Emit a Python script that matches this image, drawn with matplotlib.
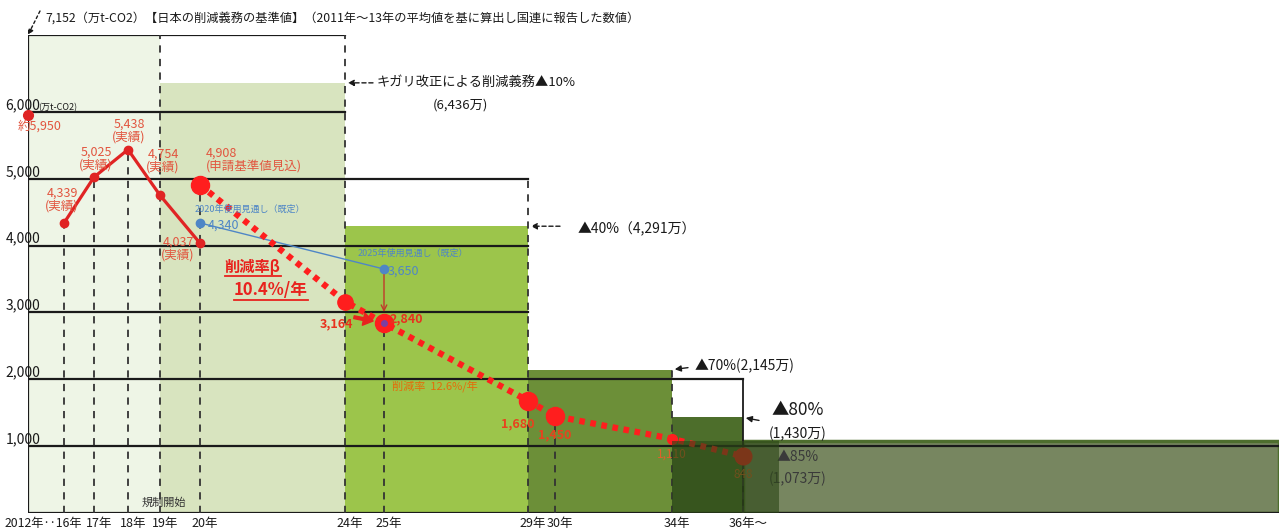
import numpy as np
import matplotlib
matplotlib.use('Agg')
import matplotlib.pyplot as plt
from matplotlib.lines import Line2D
from matplotlib.transforms import IdentityTransform, blended_transform_factory

plt.rcParams['font.family'] = ['Noto Sans CJK JP', 'DejaVu Sans']

# ---- data (万t-CO2) ----
baseline = 7152
base_2012 = 5950

actual_years = [2016, 2017, 2018, 2019, 2020]
actual_values = [4339, 5025, 5438, 4754, 4037]

plan_years = [2020, 2024, 2025, 2029, 2030, 2034, 2036]
plan_values = [4908, 3164, 2840, 1680, 1450, 1110, 848]

use_years = [2020, 2025]
use_values = [4340, 3650]
use_labels = ['2020年使用見通し（既定）', '2025年使用見通し（既定）']

cap_start = [2019, 2024, 2029, 2034, 2036]
cap_end = [2024, 2029, 2034, 2036, 2051]
cap_values = [6436, 4291, 2145, 1430, 1073]

tick_years = [2017, 2018, 2019, 2020, 2024, 2025, 2029, 2030, 2034, 2036]
tick_labels = ['17年', '18年', '19年', '20年', '24年', '25年', '29年', '30年', '34年', '36年～']
y_levels = [1000, 2000, 3000, 4000, 5000, 6000]

# schematic (uneven) year axis of the slide
knot_year = [2012, 2016, 2017, 2018, 2019, 2020, 2024, 2025, 2029, 2030, 2034, 2036, 2051]
knot_pos = [28, 64, 94, 128, 160, 200, 345, 384, 528, 555, 672, 743, 1279]


def fwd(x):
    return np.interp(x, knot_year, knot_pos)


def inv(x):
    return np.interp(x, knot_pos, knot_year)


RED = '#ff1e1e'
LBL = '#e2553f'
BLUE = '#4f86c6'

fig = plt.figure(figsize=(12.79, 5.30), dpi=100)
ax = fig.add_axes([28 / 1279, 17 / 530, 1251 / 1279, 478 / 530])
ax.set_xscale('function', functions=(fwd, inv))
ax.set_xlim(2012, 2051)
ax.set_ylim(0, baseline)
ax.axis('off')

# ---- filled areas ----
ax.bar(2012, baseline, width=2019 - 2012, align='edge', color='#eef5e6', zorder=1)
cap_colors = ['#d8e4bf', '#9cc54b', '#6c8f38', '#4d6e2b', '#778660']
for s, e, v, c in zip(cap_start, cap_end, cap_values, cap_colors):
    ax.bar(s, v, width=e - s, align='edge', color=c, zorder=1)
ax.bar(2036, cap_values[4], width=2051 - 2036, align='edge', fill=False,
       edgecolor='#4e6e2e', lw=2.5, zorder=2)

# ---- frame / level lines ----
line_ends = [2051, 2036, 2029, 2029, 2029, 2024]
for lv, xe in zip(y_levels, line_ends):
    ax.plot([2012, xe], [lv, lv], color='#1a1a1a', lw=1.6, zorder=2)
ax.plot([2012, 2024], [baseline, baseline], color='#1a1a1a', lw=1.6, zorder=2)
ax.plot([2012, 2012], [0, baseline], color='#1a1a1a', lw=1.6, zorder=2)
ax.plot([2012, 2051], [0, 0], color='#1a1a1a', lw=1.6, zorder=2)
ax.plot([2036, 2036], [0, 2000], color='#1a1a1a', lw=1.3, zorder=2)

dash = dict(color='#333333', lw=1.3, ls=(0, (4, 3.5)), zorder=2.5)
ax.plot([2024, 2024], [0, baseline], **dash)
ax.plot([2019, 2019], [0, baseline], **dash)
ax.plot([2029, 2029], [0, 5000], **dash)
ax.plot([2034, 2034], [0, cap_values[2]], **dash)
for yr, v in zip(actual_years[:3], actual_values[:3]):
    ax.plot([yr, yr], [0, v], **dash)
for yr, v in zip(plan_years, plan_values):
    if yr in (2020, 2025, 2030, 2036):
        ax.plot([yr, yr], [0, v], **dash)

# ---- series ----
ax.plot(actual_years, actual_values, color='#e02424', lw=2.3, marker='o', ms=6, zorder=4)
ax.plot([2012], [base_2012], 'o', color='#e02424', ms=7, zorder=4, clip_on=False)

ax.plot(use_years, use_values, color=BLUE, lw=1, marker='o', ms=6, zorder=4)
ax.plot(plan_years, plan_values, color=RED, lw=4.5, ls=(0, (0.9, 0.9)),
        dash_capstyle='butt', zorder=4.5)
plan_ms = [13, 11, 13, 13, 13, 7, 12]
for yr, v, m in zip(plan_years, plan_values, plan_ms):
    ax.plot(yr, v, 'o', color=RED, ms=m, zorder=4.6)
ax.plot(2025, 2840, 'o', color='#7b3fa0', ms=4, zorder=4.7)

ax.annotate('', xy=(2025, 2840), xytext=(2025, 3650),
            arrowprops=dict(arrowstyle='->', color='#c0392b', lw=1, shrinkA=4, shrinkB=8),
            zorder=4.6)
ax.annotate('', xy=(2025, 2840), xytext=(-30, 6), textcoords='offset pixels',
            arrowprops=dict(arrowstyle='simple,head_width=0.9,head_length=0.7',
                            color='#e8231e', shrinkA=0, shrinkB=8), zorder=4.6)

# ---- point labels ----
def lab(x, y, s, dx, dy, ha='center', va='center', color=LBL, **kw):
    ax.annotate(s, (x, y), xytext=(dx, dy), textcoords='offset pixels',
                ha=ha, va=va, color=color, fontsize=kw.pop('fontsize', 9),
                linespacing=1.0, zorder=kw.pop('zorder', 5), **kw)


lab(2012, base_2012, '約5,950', 12, -4, va='top')
act_off = [(-2, 10), (2, 6), (1, 6), (3, 22)]
for yr, v, (dx, dy) in zip(actual_years[:4], actual_values[:4], act_off):
    lab(yr, v, f'{v:,}\n(実績)', dx, dy, va='bottom')
lab(2020, 4037, '4,037\n(実績)', -6, 8, ha='right', va='top')
lab(2020, 4908, '4,908\n(申請基準値見込)', 6, 12, ha='left', va='bottom')

lab(2020, 4340, '4,340', 8, -2, ha='left', color=BLUE)
lab(2025, 3650, '3,650', 4, -2, ha='left', color=BLUE)
lab(2020, 4340, use_labels[0], -5, 14, ha='left', color=BLUE, fontsize=6.5)
lab(2025, 3650, use_labels[1], -26, 16, ha='left', color=BLUE, fontsize=6.5)

lab(2024, 3164, '3,164', 8, -22, ha='right', color='#e8321e', fontweight='bold')
lab(2025, 2840, '2,840', 6, 4, ha='left', color='#e8321e', fontweight='bold')
lab(2029, 1680, '1,680', 7, -23, ha='right', color='#e8421e', fontweight='bold')
lab(2030, 1450, '1,450', 0, -19, color='#e8421e', fontweight='bold')
lab(2034, 1110, '1,110', 0, -15, color='#e0602a', fontsize=8.5)
lab(2036, 848, '848', 0, -18, color='#e0602a', fontsize=8.5)

# ---- cap annotations ----
arr = dict(arrowstyle='-|>', color='#1a1a1a', lw=1, ls=(0, (3, 2)), mutation_scale=9,
           shrinkA=0, shrinkB=2)
ax.annotate('', xy=(2024, cap_values[0]), xytext=(28, 0), textcoords='offset pixels',
            arrowprops=arr)
lab(2024, cap_values[0], 'キガリ改正による削減義務▲10%', 32, 0, ha='left', color='#1a1a1a',
    fontsize=9.5)
lab(2024, cap_values[0], '(6,436万)', 115, -22, color='#1a1a1a', fontsize=9.5)

ax.annotate('', xy=(2029, cap_values[1]), xytext=(32, 0), textcoords='offset pixels',
            arrowprops=arr)
lab(2029, cap_values[1], '▲40%（4,291万）', 50, -3, ha='left', color='#1a1a1a', fontsize=10)

arr_s = dict(arrowstyle='-|>', color='#1a1a1a', lw=1, mutation_scale=9, shrinkA=0, shrinkB=2)
ax.annotate('', xy=(2034, cap_values[2]), xytext=(16, 2), textcoords='offset pixels',
            arrowprops=arr_s)
lab(2034, cap_values[2], '▲70%(2,145万)', 23, 4, ha='left', color='#1a1a1a', fontsize=10)

ax.annotate('', xy=(2036, cap_values[3]), xytext=(16, -3), textcoords='offset pixels',
            arrowprops=arr_s)
lab(2036, cap_values[3], '▲80%', 55, 7, color='#1a1a1a', fontsize=12.5)
lab(2036, cap_values[3], '(1,430万)', 55, -16, color='#1a1a1a', fontsize=10)

lab(2036, cap_values[4], '▲85%', 55, -16, color='#3a3a3a', fontsize=10)
lab(2036, cap_values[4], '(1,073万)', 55, -38, color='#3a3a3a', fontsize=10)

# dark overlay that hides part of the last labels
ax.bar(2034, cap_values[4], width=2037 - 2034, align='edge', color='#2b4616',
       alpha=0.62, zorder=6)

# ---- free text ----
t1 = ax.text(2021.45, 3680, '削減率β', color='#e8231e', fontsize=11, fontweight='bold',
             ha='center', va='center', zorder=5)
t2 = ax.text(2021.95, 3330, '10.4%/年', color='#e8231e', fontsize=12, fontweight='bold',
             ha='center', va='center', zorder=5)
ax.text(2026.4, 1900, '削減率  12.6%/年', color='#e46c0a', fontsize=8, ha='center',
        va='center', zorder=5)
ax.text(2019.1, 150, '規制開始', color='#333333', fontsize=8, ha='center', va='center',
        zorder=5)

# y level labels
ytr = blended_transform_factory(ax.transAxes, ax.transData)
for lv in y_levels:
    ax.text(-0.018, lv, f'{lv:,}', transform=ytr, ha='left', va='bottom', fontsize=10,
            color='#1a1a1a')
ax.text(0.008, 6000, '(万t-CO2)', transform=ytr, ha='left', va='bottom', fontsize=6.5,
        color='#1a1a1a')

# x labels
xtr = blended_transform_factory(ax.transData, ax.transAxes)
for yr, s in zip(tick_years, tick_labels):
    ax.annotate(s, (yr, 0), xycoords=xtr, xytext=(5, -4), textcoords='offset pixels',
                ha='center', va='top', fontsize=9, color='#1a1a1a')
ax.annotate('2012年‥16年', (2016, 0), xycoords=xtr, xytext=(18, -4),
            textcoords='offset pixels', ha='right', va='top', fontsize=8.8, color='#1a1a1a')

# title line with dashed pointer to the baseline box
fig.text(45 / 1279, 1 - 18 / 530,
         '7,152（万t-CO2）【日本の削減義務の基準値】（2011年～13年の平均値を基に算出し国連に報告した数値）',
         fontsize=8.8, va='center', ha='left', color='#1a1a1a')
ax.annotate('', xy=(2012, baseline), xytext=(12, 24), textcoords='offset pixels',
            arrowprops=dict(arrowstyle='-|>', color='#1a1a1a', lw=1, ls=(0, (2, 2)),
                            mutation_scale=8, shrinkA=0, shrinkB=0))

# underline the rate text
fig.canvas.draw()
for t in (t1, t2):
    bb = t.get_window_extent()
    fig.add_artist(Line2D([bb.x0, bb.x1], [bb.y0 - 1, bb.y0 - 1], transform=IdentityTransform(),
                          color='#e8231e', lw=1.3))

fig.savefig('out.png', dpi=100)
